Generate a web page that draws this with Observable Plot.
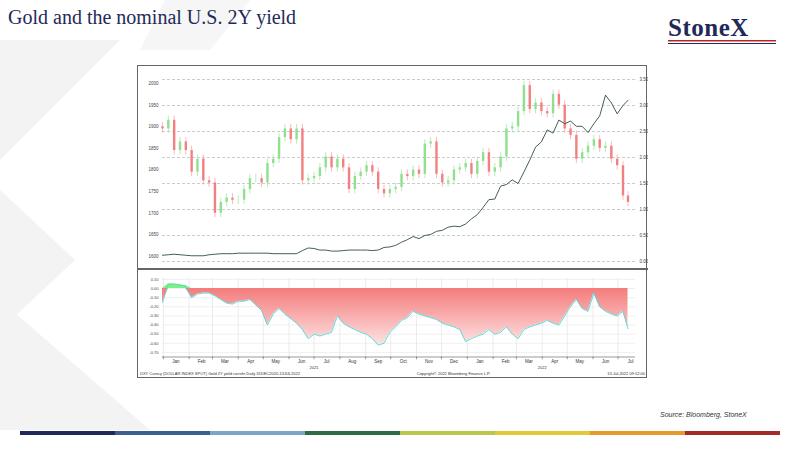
<!DOCTYPE html>
<html><head><meta charset="utf-8">
<script src="https://cdn.jsdelivr.net/npm/d3@7"></script>
<script src="https://cdn.jsdelivr.net/npm/@observablehq/plot@0.6"></script>
<style>
body{margin:0;width:800px;height:450px;position:relative;overflow:hidden;background:#fff;font-family:"Liberation Sans",Arial,sans-serif}
.abs{position:absolute}
#title{left:8px;top:6px;font-family:"Liberation Serif","Times New Roman",serif;font-size:20px;color:#1f2a5a}
#logo{left:668px;top:14px;font-family:"Liberation Serif",serif;font-weight:bold;font-size:25px;color:#1f2a5a;letter-spacing:0.5px}
#frame{left:137px;top:65px;width:510px;height:313px;border:1px solid #666;box-sizing:border-box}
#sep{left:137px;top:268px;width:511px;height:2px;background:#666}
#foot{left:140px;top:371px;width:505px;font-size:4px;line-height:5px;color:#333;display:flex;justify-content:space-between}
#src{left:660px;top:411px;font-size:7px;font-style:italic;color:#333}
</style></head><body>
<svg class="abs" style="left:0;top:0" width="800" height="450">
<polygon points="0,40 120,40 0,160" fill="#f3f3f3"/>
<polygon points="0,190 75,260 0,330" fill="#f3f3f3"/>
<polygon points="0,300 150,430 0,430" fill="#f3f3f3"/>
<polygon points="165,0 250,0 210,50 140,50" fill="#f6f6f6"/>
<rect x="668" y="40" width="108" height="1.5" fill="#b22"/>
<rect x="668" y="43" width="108" height="1" fill="#1f2a5a"/>
</svg>
<div id="title" class="abs">Gold and the nominal U.S. 2Y yield</div>
<div id="logo" class="abs">StoneX</div>
<div id="frame" class="abs"></div>
<div id="topc" class="abs" style="left:137px;top:65px"></div>
<div id="botc" class="abs" style="left:137px;top:270px"></div>
<div id="sep" class="abs"></div>
<div id="foot" class="abs"><span>DXY Curncy (DOLLAR INDEX SPOT) Gold 2Y yield correln  Daily 31DEC2020-13JUL2022</span><span>Copyright© 2022 Bloomberg Finance L.P.</span><span>13-Jul-2022 09:52:00</span></div>
<div id="src" class="abs">Source:  Bloomberg,  StoneX</div>
<svg class="abs" style="left:0;top:0" width="800" height="450" id="band"></svg>
<script>
const gold=[1895,1915,1845,1865,1845,1795,1825,1775,1770,1700,1725,1735,1730,1730,1755,1780,1780,1770,1815,1825,1875,1895,1870,1895,1775,1780,1785,1805,1830,1805,1825,1805,1755,1785,1795,1810,1795,1755,1745,1755,1760,1790,1785,1800,1790,1860,1865,1790,1770,1775,1800,1805,1815,1790,1820,1840,1795,1805,1830,1895,1900,1935,1995,1940,1955,1935,1930,1975,1950,1895,1880,1825,1840,1855,1870,1850,1855,1825,1810,1740,1725];
const yld=[0.12,0.13,0.14,0.13,0.12,0.11,0.11,0.11,0.13,0.14,0.15,0.15,0.15,0.16,0.16,0.16,0.16,0.16,0.16,0.15,0.15,0.15,0.15,0.15,0.21,0.26,0.25,0.22,0.22,0.20,0.20,0.21,0.22,0.22,0.22,0.22,0.21,0.22,0.27,0.28,0.31,0.37,0.42,0.48,0.44,0.50,0.52,0.58,0.60,0.66,0.68,0.67,0.72,0.82,0.90,1.04,1.19,1.20,1.45,1.48,1.57,1.50,1.72,1.95,2.20,2.30,2.53,2.47,2.72,2.65,2.70,2.60,2.60,2.48,2.65,2.80,3.20,3.05,2.84,3.00,3.10];
const spread=[-0.15,0.05,0.05,0.04,0.03,-0.10,-0.06,-0.05,-0.05,-0.08,-0.12,-0.16,-0.17,-0.14,-0.14,-0.12,-0.18,-0.24,-0.40,-0.28,-0.22,-0.28,-0.33,-0.38,-0.45,-0.55,-0.50,-0.52,-0.50,-0.48,-0.30,-0.38,-0.42,-0.45,-0.48,-0.50,-0.55,-0.62,-0.60,-0.48,-0.42,-0.35,-0.32,-0.25,-0.28,-0.30,-0.32,-0.34,-0.38,-0.40,-0.42,-0.45,-0.58,-0.55,-0.52,-0.50,-0.45,-0.50,-0.48,-0.42,-0.50,-0.55,-0.45,-0.42,-0.40,-0.38,-0.35,-0.38,-0.40,-0.30,-0.20,-0.12,-0.22,-0.25,-0.05,-0.20,-0.25,-0.28,-0.30,-0.25,-0.44];
const goldTicks=[1600,1650,1700,1750,1800,1850,1900,1950,2000];
const yldTicks=[0,0.5,1,1.5,2,2.5,3,3.5];
const spreadTicks=[0.1,0,-0.1,-0.2,-0.3,-0.4,-0.5,-0.6,-0.7];
const monthLabels=["Jan","Feb","Mar","Apr","May","Jun","Jul","Aug","Sep","Oct","Nov","Dec","Jan","Feb","Mar","Apr","May","Jun","Jul"];
const bandColors=["#1f2a5a","#3d5f8f","#7aa6c9","#2e6b45","#b9c74a","#e2c93a","#e39a2a","#a52a2a"];

const start=new Date(2020,11,31);
const dates=gold.map((_,i)=>i<gold.length-1?d3.timeDay.offset(start,7*i):new Date(2022,6,13));
const g2y=g=>(g-1600)*(3.327/400)+0.096;
const candles=gold.map((c,i)=>{const o=i?gold[i-1]:1900;return{d:dates[i],o:g2y(o),c:g2y(c),h:g2y(Math.max(o,c)+10),l:g2y(Math.min(o,c)-10),up:c>=o};});
const ydata=yld.map((v,i)=>({d:dates[i],v}));
const sdata=spread.map((v,i)=>({d:dates[i],v,neg:Math.min(v,0),pos:Math.max(v,0)}));
const monthStarts=d3.range(19).map(i=>new Date(2021,i,1));
const months=monthLabels.map((m,i)=>({d:new Date(2021,i,16),m}));
const xs={type:"time",domain:[new Date(2020,11,31),new Date(2022,6,22)],range:[25,498],axis:null};
const fnt='font-family:"Liberation Sans",Arial,sans-serif;';

const topPlot=Plot.plot({width:511,height:203,marginTop:14,marginBottom:7,marginLeft:25,marginRight:13,x:xs,
 y:{domain:[0,3.5],range:[196,14],axis:null},style:fnt+"font-size:4.5px;background:transparent",
 marks:[
  Plot.ruleY(yldTicks,{stroke:"#ccc",strokeDasharray:"3,2"}),
  Plot.text(yldTicks,{x:new Date(2022,6,22),y:d=>d,text:d=>d.toFixed(2),dx:4,textAnchor:"start",fill:"#444"}),
  Plot.text(goldTicks,{x:new Date(2020,11,31),y:d=>g2y(d),text:d=>String(d),dx:-4,textAnchor:"end",fill:"#444"}),
  Plot.ruleX(candles,{x:"d",y1:"l",y2:"h",stroke:d=>d.up?"#a8e8a8":"#f7a8a8",strokeWidth:0.8}),
  Plot.ruleX(candles,{x:"d",y1:"o",y2:"c",stroke:d=>d.up?"#8fe08f":"#f28080",strokeWidth:2.4}),
  Plot.line(ydata,{x:"d",y:"v",stroke:"#2f4f3a",strokeWidth:0.9})
 ]});
document.getElementById("topc").append(topPlot);

const botPlot=Plot.plot({width:511,height:104,marginTop:8,marginBottom:17.5,marginLeft:25,marginRight:13,x:xs,
 y:{domain:[-0.75,0.11],range:[86.5,8],axis:null},style:fnt+"font-size:4px;background:transparent",
 marks:[
  () => {const s=d3.create("svg:defs");const g=s.append("linearGradient").attr("id","rg").attr("x1",0).attr("x2",0).attr("y1",0).attr("y2",1);
   g.append("stop").attr("offset","0").attr("stop-color","#f47c7c");g.append("stop").attr("offset","1").attr("stop-color","#fde2e2");return s.node();},
  Plot.ruleX(monthStarts,{stroke:"#ddd",strokeWidth:0.6}),
  Plot.ruleY(spreadTicks,{stroke:"#e6e6e6",strokeWidth:0.6}),
  Plot.areaY(sdata,{x:"d",y1:0,y2:"neg",fill:"url(#rg)"}),
  Plot.areaY(sdata,{x:"d",y1:0,y2:"pos",fill:"#7ef07e"}),
  Plot.line(sdata,{x:"d",y:"v",stroke:"#4fd8d8",strokeWidth:0.9}),
  Plot.text(spreadTicks,{x:new Date(2020,11,31),y:d=>d,text:d=>d.toFixed(2),dx:-4,textAnchor:"end",fill:"#444"}),
  Plot.ruleY([-0.75],{stroke:"#555",strokeWidth:0.6}),
  Plot.ruleX(monthStarts,{y1:-0.75,y2:-0.78,stroke:"#555",strokeWidth:0.6}),
  Plot.text(months,{x:"d",y:-0.75,text:"m",dy:5,fill:"#333",fontSize:4.5}),
  Plot.text([{d:new Date(2021,6,1),t:"2021"},{d:new Date(2022,3,1),t:"2022"}],{x:"d",y:-0.75,text:"t",dy:11,fill:"#333"})
 ]});
document.getElementById("botc").append(botPlot);

const band=d3.select("#band");
bandColors.forEach((c,i)=>band.append("rect").attr("x",20+i*95).attr("y",431).attr("width",95).attr("height",4).attr("fill",c));
</script></body></html>
